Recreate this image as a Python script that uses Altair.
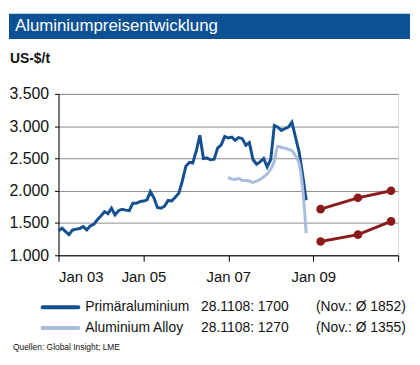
import altair as alt
import pandas as pd

# ---------------- data ----------------
title_text = "Aluminiumpreisentwicklung"
unit_text = "US-$/t"
source_text = "Quellen: Global Insight; LME"
series_names = ["Primäraluminium", "Aluminium Alloy"]
last_quotes = ["28.1108: 1700", "28.1108: 1270"]
nov_avgs = ["(Nov.: Ø 1852)", "(Nov.: Ø 1355)"]

months = pd.date_range("2003-01-01", periods=71, freq="MS")
primary = [
    1380, 1420, 1370, 1320, 1390, 1405, 1415, 1445, 1395, 1455, 1480, 1550,
    1610, 1677, 1645, 1729, 1626, 1690, 1714, 1700, 1693, 1806, 1806, 1831,
    1840, 1860, 1985, 1890, 1740, 1729, 1760, 1850, 1842, 1900, 1960, 2150,
    2380, 2440, 2430, 2620, 2858, 2499, 2505, 2480, 2490, 2660, 2710, 2840,
    2816, 2830, 2781, 2822, 2807, 2704, 2745, 2484, 2411, 2447, 2499, 2370,
    2484, 3011, 2985, 2935, 2960, 2985, 3062, 2830, 2600, 2250, 1852,
]
alloy_months = months[48:]
alloy = [
    2210, 2180, 2175, 2190, 2160, 2160, 2150, 2130, 2150, 2175, 2216, 2260,
    2340, 2460, 2690, 2670, 2660, 2640, 2620, 2540, 2420, 2050, 1345,
]
fc_dates = ["2009-03-05", "2010-01-20", "2010-11-01"]
fc_primary = [1715, 1890, 2000]
fc_alloy = [1215, 1320, 1525]

df_p = pd.DataFrame({"date": months, "value": primary})
df_a = pd.DataFrame({"date": alloy_months, "value": alloy})
df_f = pd.DataFrame({
    "date": pd.to_datetime(fc_dates * 2),
    "value": fc_primary + fc_alloy,
    "series": ["Prognose Primär"] * 3 + ["Prognose Alloy"] * 3,
})

# ---------------- styles ----------------
FONT = "Liberation Sans"
C_PRIM = "#14508f"
C_ALLOY = "#a9bedf"
C_FC = "#8b1a1a"
C_BAR = "#0d5195"

W, H = 343, 163

x_scale = alt.Scale(domain=[alt.DateTime(year=2003, month=1, date=1),
                            alt.DateTime(year=2011, month=1, date=1)])
y_scale = alt.Scale(domain=[1000, 3500], nice=False, zero=False)

x_axis = alt.Axis(
    title=None,
    values=[alt.DateTime(year=y, month=1, date=1) for y in [2003, 2005, 2007, 2009, 2011]],
    labelExpr="year(datum.value) >= 2011 ? '' : timeFormat(datum.value, '%b %y')",
    grid=False, domainColor="#000000", tickColor="#000000", tickSize=6,
    labelFontSize=15, labelColor="#111111", labelPadding=8, labelFont=FONT,
    labelOverlap=False,
)
y_axis = alt.Axis(
    title=None, values=[1000, 1500, 2000, 2500, 3000, 3500],
    labelExpr="replace(format(datum.value, ',.0f'), ',', '.')",
    grid=True, gridColor="#8c8c8c", gridWidth=1,
    domainColor="#000000", tickColor="#000000", tickSize=4,
    labelFontSize=16, labelColor="#111111", labelPadding=6, labelFont=FONT,
    labelOverlap=False, labelBound=False, labelFlush=False,
)

X = alt.X("date:T", scale=x_scale, axis=x_axis)
Y = alt.Y("value:Q", scale=y_scale, axis=y_axis)

line_p = alt.Chart(df_p).mark_line(color=C_PRIM, strokeWidth=3).encode(x=X, y=Y)
line_a = alt.Chart(df_a).mark_line(color=C_ALLOY, strokeWidth=3, interpolate="monotone").encode(x=X, y=Y)
line_f = alt.Chart(df_f).mark_line(color=C_FC, strokeWidth=3).encode(x=X, y=Y, detail="series:N")
pts_f = alt.Chart(df_f).mark_circle(color=C_FC, size=75, opacity=1).encode(x=X, y=Y)


def text_layer(txt, x, y, size, color="#111111", weight="normal", baseline="middle"):
    return alt.Chart(pd.DataFrame({"t": [txt]})).mark_text(
        align="left", baseline=baseline, fontSize=size, font=FONT,
        color=color, fontWeight=weight,
    ).encode(x=alt.value(x), y=alt.value(y), text="t:N")


def legend_line(color, y):
    return alt.Chart(pd.DataFrame({"t": [0]})).mark_rule(
        color=color, strokeWidth=4, strokeCap="round"
    ).encode(x=alt.value(-16), x2=alt.value(20), y=alt.value(y))


title_bar = alt.Chart(pd.DataFrame({"t": [0]})).mark_rect(color=C_BAR).encode(
    x=alt.value(-50), x2=alt.value(355), y=alt.value(-81), y2=alt.value(-55.5))

layers = [
    title_bar,
    text_layer(title_text, -44, -63.5, 17, color="#ffffff", baseline="alphabetic"),
    text_layer(unit_text, -49, -31, 14, weight="bold", baseline="alphabetic"),
    line_p, line_a, line_f, pts_f,
    legend_line(C_PRIM, 215.5),
    legend_line(C_ALLOY, 236.5),
    text_layer(series_names[0], 27, 215, 14),
    text_layer(series_names[1], 27, 236, 14),
    text_layer(last_quotes[0], 144, 215, 14),
    text_layer(last_quotes[1], 144, 236, 14),
    text_layer(nov_avgs[0], 260, 215, 14),
    text_layer(nov_avgs[1], 260, 236, 14),
    text_layer(source_text, -46, 256, 8.5),
]

chart = alt.layer(*layers).properties(
    width=W, height=H,
    autosize=alt.AutoSizeParams(type="none"),
    padding={"left": 51, "top": 85, "right": 14, "bottom": 105},
).configure_view(stroke=None).configure(background="#ffffff")

chart.save("out.html", embed_options={"renderer": "svg", "actions": False})
